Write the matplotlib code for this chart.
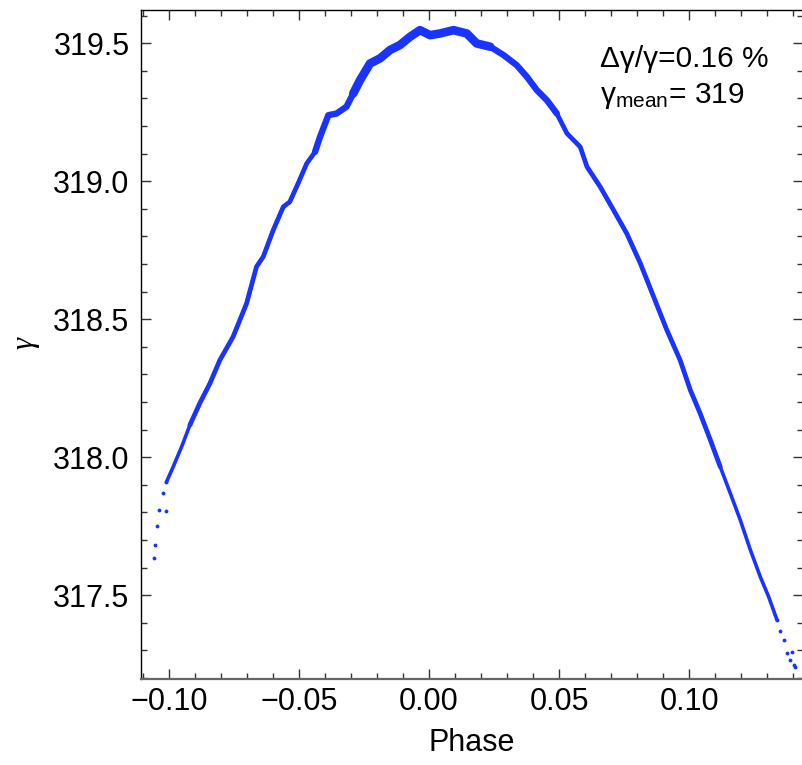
import matplotlib

matplotlib.use("Agg")

import matplotlib.pyplot as plt  # noqa: E402
from matplotlib.ticker import MultipleLocator  # noqa: E402

plt.rcParams["font.family"] = ["Liberation Sans", "DejaVu Sans"]
plt.rcParams["mathtext.fontset"] = "custom"
plt.rcParams["mathtext.rm"] = "Liberation Sans"
plt.rcParams["mathtext.it"] = "Liberation Sans:italic"

tail_left_x = [-0.1058, -0.1054, -0.1047, -0.1037, -0.1009, -0.1022, -0.1009]
tail_left_y = [317.634, 317.68, 317.75, 317.81, 317.806, 317.87, 317.91]

phase = [
    -0.1009, -0.0983, -0.0951, -0.0919, -0.0881, -0.0842, -0.0804, -0.0753,
    -0.0701, -0.0663, -0.0637, -0.0599, -0.0560, -0.0535, -0.0503, -0.0470,
    -0.0438, -0.0419, -0.0387, -0.0355, -0.0317, -0.0291, -0.0265, -0.0227,
    -0.0188, -0.0150, -0.0112, -0.0073, -0.0035, 0.0004, 0.0042, 0.0094,
    0.0145, 0.0183, 0.0235, 0.0286, 0.0337, 0.0376, 0.0414, 0.0453,
    0.0491, 0.0530, 0.0581, 0.0607, 0.0658, 0.0709, 0.0760, 0.0812,
    0.0863, 0.0914, 0.0965, 0.1004, 0.1042, 0.1081, 0.1119, 0.1158,
    0.1196, 0.1235, 0.1273, 0.1305, 0.1337,
]
gamma = [
    317.91, 317.965, 318.037, 318.116, 318.195, 318.267, 318.351, 318.436,
    318.557, 318.69, 318.726, 318.822, 318.907, 318.925, 318.992, 319.064,
    319.106, 319.16, 319.239, 319.245, 319.27, 319.318, 319.366, 319.426,
    319.445, 319.475, 319.493, 319.523, 319.547, 319.529, 319.535, 319.547,
    319.535, 319.499, 319.487, 319.457, 319.42, 319.378, 319.33, 319.293,
    319.245, 319.173, 319.124, 319.052, 318.979, 318.895, 318.81, 318.702,
    318.581, 318.46, 318.351, 318.243, 318.158, 318.062, 317.965, 317.868,
    317.772, 317.663, 317.566, 317.494, 317.41,
]

tail_right_x = [0.1337, 0.1350, 0.1363, 0.1376, 0.1388, 0.1395, 0.1401, 0.1405]
tail_right_y = [317.41, 317.37, 317.337, 317.289, 317.264, 317.295, 317.246, 317.24]

# épaisseur de la bande selon la zone de phase (min, max, largeur en pt)
bands = [
    (-0.11, 0.15, 2.6),
    (-0.092, 0.112, 3.4),
    (-0.045, 0.052, 4.6),
    (-0.030, 0.025, 6.2),
]
blue = "#1a33ff"

fig = plt.figure(figsize=(8.03, 7.65), dpi=100)
ax = fig.add_axes([0.1752, 0.1124, 0.8248, 0.8745])

for lo, hi, lw in bands:
    seg = [(p, g) for p, g in zip(phase, gamma) if lo <= p <= hi]
    ax.plot([p for p, _ in seg], [g for _, g in seg], color=blue, lw=lw,
            solid_capstyle="round", solid_joinstyle="round")
ax.plot(tail_left_x, tail_left_y, ".", color=blue, ms=3.5)
ax.plot(tail_right_x, tail_right_y, ".", color=blue, ms=3.5)

ax.set_xlim(-0.1108, 0.1437)
ax.set_ylim(317.196, 319.62)

ax.xaxis.set_major_locator(MultipleLocator(0.05))
ax.xaxis.set_minor_locator(MultipleLocator(0.01))
ax.yaxis.set_major_locator(MultipleLocator(0.5))
ax.yaxis.set_minor_locator(MultipleLocator(0.1))
ax.xaxis.set_major_formatter(plt.FuncFormatter(
    lambda v, _: ("\u2212" if v < -1e-9 else "") + f"{abs(v):.2f}"))
ax.yaxis.set_major_formatter(plt.FuncFormatter(lambda v, _: f"{v:.1f}"))

ax.tick_params(which="both", direction="in", top=True, right=True,
               labelsize=22, width=1.0, color="#333333")
ax.tick_params(which="major", length=7.2)
ax.tick_params(which="minor", length=4.3)
ax.tick_params(axis="y", pad=8.0)
ax.tick_params(axis="x", pad=6.0)
for side in ("left", "top", "right"):
    ax.spines[side].set_color("black")
    ax.spines[side].set_linewidth(1.0)
ax.spines["bottom"].set_color("#666666")
ax.spines["bottom"].set_linewidth(1.6)

ax.set_xlabel("Phase", fontsize=22, labelpad=8)
fig.text(25 / 803, 1 - 343 / 765, "\u03b3", rotation=90, fontsize=22,
         family="Liberation Serif", style="italic", ha="center", va="center")

ax.text(600 / 803, 1 - 67 / 765, "\u0394\u03b3/\u03b3=0.16 %", fontsize=21.5,
        transform=fig.transFigure, ha="left", va="baseline")
ax.text(600 / 803, 1 - 103 / 765, r"$\mathrm{\gamma_{mean}}$= 319",
        fontsize=21.5, transform=fig.transFigure, ha="left", va="baseline")

fig.savefig("out.png", dpi=100)
plt.close(fig)
